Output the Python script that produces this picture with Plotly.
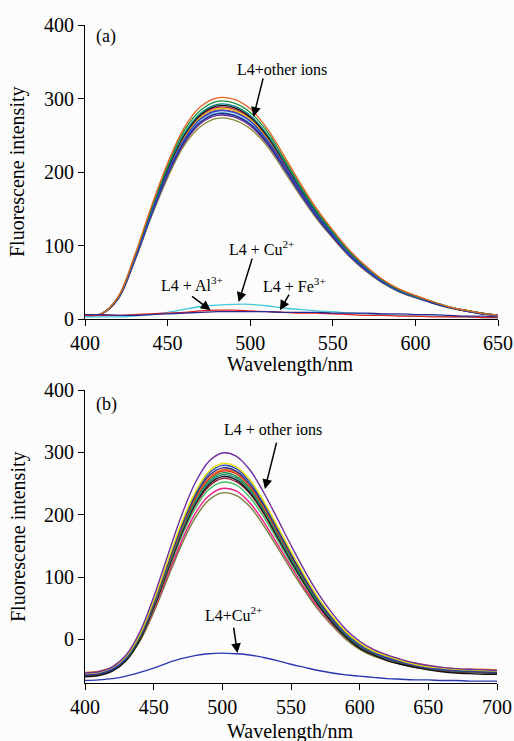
import plotly.graph_objects as go
from plotly.subplots import make_subplots

# ---- panel (a): wavelength grid and spectra ----
wl_a = list(range(400, 651, 10))

a_olive = [5, 7, 27, 78, 138, 192, 236, 262, 273, 271, 259, 236, 203, 169, 137, 110, 85, 65, 49, 37, 29, 22, 15, 11, 7, 5]
a_purple = [5, 7, 27, 79, 140, 195, 239, 266, 277, 275, 263, 239, 206, 171, 139, 111, 86, 66, 50, 38, 29, 22, 16, 11, 7, 5]
a_navy = [5, 7, 28, 80, 141, 197, 241, 268, 279, 277, 265, 241, 208, 173, 140, 112, 87, 67, 50, 38, 30, 22, 16, 11, 7, 5]
a_sky = [5, 7, 28, 80, 141, 197, 242, 269, 280, 278, 266, 242, 208, 173, 140, 113, 87, 67, 50, 38, 30, 22, 16, 11, 7, 5]
a_blue = [5, 7, 28, 81, 143, 199, 244, 272, 283, 281, 269, 244, 211, 175, 142, 114, 88, 68, 51, 38, 30, 23, 16, 11, 8, 5]
a_magenta = [5, 7, 28, 81, 143, 200, 245, 273, 284, 282, 270, 245, 211, 176, 143, 114, 89, 68, 51, 39, 30, 23, 16, 11, 8, 5]
a_yellow = [5, 7, 28, 81, 144, 201, 247, 275, 286, 284, 272, 247, 213, 177, 144, 115, 89, 68, 51, 39, 30, 23, 16, 11, 8, 5]
a_crimson = [5, 7, 28, 82, 145, 203, 249, 277, 288, 286, 274, 249, 214, 178, 145, 116, 90, 69, 52, 39, 31, 23, 16, 11, 8, 5]
a_black = [5, 7, 29, 83, 146, 204, 250, 278, 290, 288, 275, 250, 216, 179, 145, 117, 91, 69, 52, 39, 31, 23, 16, 12, 8, 5]
a_teal = [5, 7, 29, 83, 147, 206, 252, 280, 292, 290, 277, 252, 217, 180, 146, 117, 91, 70, 52, 40, 31, 23, 16, 12, 8, 5]
a_green = [5, 7, 29, 85, 149, 208, 256, 284, 296, 294, 281, 256, 220, 183, 148, 119, 92, 71, 53, 40, 31, 24, 17, 12, 8, 5]
a_orange = [5, 7, 30, 86, 152, 212, 260, 289, 301, 299, 286, 260, 224, 186, 151, 121, 94, 72, 54, 41, 32, 24, 17, 12, 8, 5]

a_cu = [3, 3, 3, 4, 6, 9, 13, 17, 19, 20, 20, 18, 15, 13, 11, 10, 8, 7, 6, 5, 4, 4, 3, 3, 2, 2]
a_al = [5, 5, 5, 6, 7, 8, 9, 11, 12, 12, 11, 10, 9, 8, 8, 7, 6, 5, 5, 4, 4, 3, 3, 3, 2, 2]
a_fe = [6, 6, 5, 5, 6, 7, 8, 9, 10, 10, 10, 10, 9, 9, 9, 8, 8, 8, 7, 7, 6, 6, 5, 4, 4, 3]

# ---- panel (b) ----
wl_b = list(range(400, 701, 10))

b_olive = [-58, -56, -50, -34, -3, 43, 97, 150, 194, 223, 235, 231, 213, 183, 148, 112, 78, 47, 22, 0, -16, -27, -34, -40, -45, -48, -51, -52, -53, -54, -55]
b_pink = [-56, -54, -48, -31, 0, 47, 102, 156, 201, 230, 242, 238, 219, 189, 153, 117, 82, 51, 25, 3, -13, -24, -31, -37, -42, -46, -48, -50, -51, -52, -53]
b_lgreen = [-57, -55, -48, -32, 1, 50, 107, 163, 209, 240, 252, 248, 228, 197, 160, 122, 87, 54, 27, 4, -12, -24, -32, -38, -43, -47, -49, -51, -52, -53, -54]
b_dkred = [-58, -56, -49, -32, 1, 51, 109, 167, 214, 245, 258, 253, 234, 202, 164, 126, 89, 56, 28, 5, -12, -24, -32, -38, -44, -47, -50, -52, -53, -53, -54]
b_black = [-60, -58, -51, -34, 0, 51, 110, 168, 216, 248, 261, 256, 236, 204, 165, 126, 89, 55, 27, 4, -14, -25, -34, -40, -45, -49, -52, -54, -55, -56, -56]
b_teal = [-57, -55, -48, -31, 3, 54, 113, 171, 219, 251, 264, 259, 239, 207, 168, 129, 92, 58, 30, 7, -11, -22, -31, -37, -42, -46, -49, -51, -52, -52, -53]
b_green = [-56, -54, -47, -30, 4, 56, 115, 174, 222, 254, 267, 262, 242, 209, 171, 132, 94, 60, 32, 8, -9, -21, -30, -36, -41, -45, -48, -50, -51, -51, -52]
b_red = [-55, -53, -46, -28, 6, 57, 117, 176, 225, 257, 270, 266, 245, 212, 173, 134, 96, 62, 33, 10, -8, -20, -28, -35, -40, -44, -47, -49, -50, -50, -51]
b_orange = [-53, -51, -44, -26, 8, 59, 119, 178, 227, 259, 272, 268, 247, 214, 175, 136, 98, 64, 35, 12, -6, -18, -26, -33, -38, -42, -45, -47, -48, -48, -49]
b_navy = [-57, -55, -48, -30, 5, 58, 119, 179, 229, 262, 275, 270, 249, 216, 176, 136, 97, 62, 33, 9, -9, -21, -30, -36, -42, -46, -48, -50, -51, -52, -53]
b_blue = [-56, -54, -47, -29, 7, 60, 122, 182, 233, 266, 279, 274, 253, 219, 179, 139, 100, 65, 35, 10, -8, -20, -29, -35, -41, -45, -48, -49, -50, -51, -52]
b_yellow = [-55, -53, -45, -27, 8, 62, 124, 185, 235, 269, 282, 277, 256, 222, 182, 141, 102, 66, 37, 12, -6, -19, -27, -34, -40, -44, -46, -48, -49, -50, -51]
b_purple = [-54, -52, -44, -25, 12, 68, 133, 197, 250, 285, 299, 294, 272, 236, 194, 151, 110, 73, 42, 16, -3, -16, -25, -32, -38, -42, -45, -47, -48, -49, -50]

b_cu = [-66, -65, -63, -59, -53, -46, -38, -31, -26, -23, -22, -23, -25, -29, -34, -40, -45, -50, -54, -57, -59, -61, -63, -64, -65, -65, -66, -66, -67, -67, -67]

FONT = "Liberation Serif"
W, H = 514, 741


def xdom(left, right):
    return [left / W, right / W]


def ydom(top, bottom):
    return [1 - bottom / H, 1 - top / H]


series_a = [
    (a_olive, "#8a8a30"), (a_purple, "#6a2c9a"), (a_sky, "#40a8d8"),
    (a_magenta, "#b03090"), (a_yellow, "#d8c800"), (a_crimson, "#c0203c"),
    (a_black, "#111111"), (a_teal, "#00807f"), (a_navy, "#26268a"),
    (a_blue, "#2a48c8"), (a_green, "#1b8f3c"), (a_orange, "#e8601c"),
]
low_a = [(a_cu, "#40c8d8"), (a_al, "#e82020"), (a_fe, "#2a2a90")]

series_b = [
    (b_olive, "#7a7a38"), (b_pink, "#f01880"), (b_lgreen, "#40c060"),
    (b_dkred, "#a02040"), (b_black, "#111111"), (b_teal, "#208080"),
    (b_green, "#1a9a40"), (b_red, "#e02828"), (b_orange, "#f07020"),
    (b_navy, "#283080"), (b_blue, "#3048c0"), (b_yellow, "#e8e000"),
    (b_purple, "#7030a0"),
]

fig = make_subplots(rows=2, cols=1)

for ys, c in series_a + low_a:
    fig.add_trace(go.Scatter(x=wl_a, y=ys, mode="lines", line=dict(color=c, width=1.3, shape="spline")), row=1, col=1)
for ys, c in series_b:
    fig.add_trace(go.Scatter(x=wl_b, y=ys, mode="lines", line=dict(color=c, width=1.4, shape="spline")), row=2, col=1)
fig.add_trace(go.Scatter(x=wl_b, y=b_cu, mode="lines", line=dict(color="#2838b0", width=1.4, shape="spline")), row=2, col=1)

axis_style = dict(
    showline=True, linecolor="black", linewidth=1.2, ticks="outside", ticklen=6,
    tickwidth=1.2, tickcolor="black", showgrid=False, zeroline=False, automargin=False,
    tickfont=dict(family=FONT, size=20, color="black"),
)

fig.update_layout(
    width=W, height=H,
    margin=dict(l=0, r=0, t=0, b=0),
    paper_bgcolor="#fcfcfc", plot_bgcolor="#fcfcfc",
    showlegend=False,
    font=dict(family=FONT, color="black"),
    xaxis=dict(axis_style, domain=xdom(85, 498), range=[400, 650], dtick=50),
    yaxis=dict(axis_style, domain=ydom(25, 319), range=[0, 400], dtick=100),
    xaxis2=dict(axis_style, domain=xdom(85, 497), range=[400, 700], dtick=50),
    yaxis2=dict(axis_style, domain=ydom(390, 683), range=[-70, 400],
                tickvals=[0, 100, 200, 300, 400]),
)

# axis titles, placed by hand
title_font = dict(family=FONT, size=20, color="black")
for px, py, t, ang in [(290, 364, "Wavelength/nm", 0), (290, 731, "Wavelength/nm", 0),
                       (18, 172, "Fluorescene intensity", -90), (18, 537, "Fluorescene intensity", -90)]:
    fig.add_annotation(xref="paper", yref="paper", x=px / W, y=1 - py / H, text=t,
                       textangle=ang, showarrow=False, font=title_font,
                       xanchor="center", yanchor="middle")

ann_font = dict(family=FONT, size=16, color="black")
labels = [
    ("x", "y", 519, 340, "L4+other ions"),
    ("x", "y", 507, 97, "L4 + Cu<sup>2+</sup>"),
    ("x", "y", 465, 48, "L4 + Al<sup>3+</sup>"),
    ("x", "y", 527, 46, "L4 + Fe<sup>3+</sup>"),
    ("x", "y", 413, 385, "(a)"),
    ("x2", "y2", 537, 336, "L4 + other ions"),
    ("x2", "y2", 508, 41, "L4+Cu<sup>2+</sup>"),
    ("x2", "y2", 416, 376, "(b)"),
]
for xr, yr, x, y, t in labels:
    fig.add_annotation(xref=xr, yref=yr, x=x, y=y, text=t, showarrow=False,
                       font=dict(ann_font, size=18 if t.startswith("(") else 16))

arrows = [
    ("x", "y", 502, 275, 10, -40),
    ("x", "y", 493, 23, 14, -45),
    ("x", "y", 476, 12, -20, -15),
    ("x", "y", 518, 12, 10, -17),
    ("x2", "y2", 531, 241, 12, -48),
    ("x2", "y2", 511, -22, -4, -27),
]
for xr, yr, x, y, ax, ay in arrows:
    fig.add_annotation(xref=xr, yref=yr, x=x, y=y, ax=ax, ay=ay, text="",
                       showarrow=True, arrowhead=2, arrowsize=1.3, arrowwidth=1.5,
                       arrowcolor="black")

# drop the browser's default 8px body margin so the figure fills the window
fig.write_html("out.html", config={"displayModeBar": False},
               post_script="document.body.style.margin='0px';")
